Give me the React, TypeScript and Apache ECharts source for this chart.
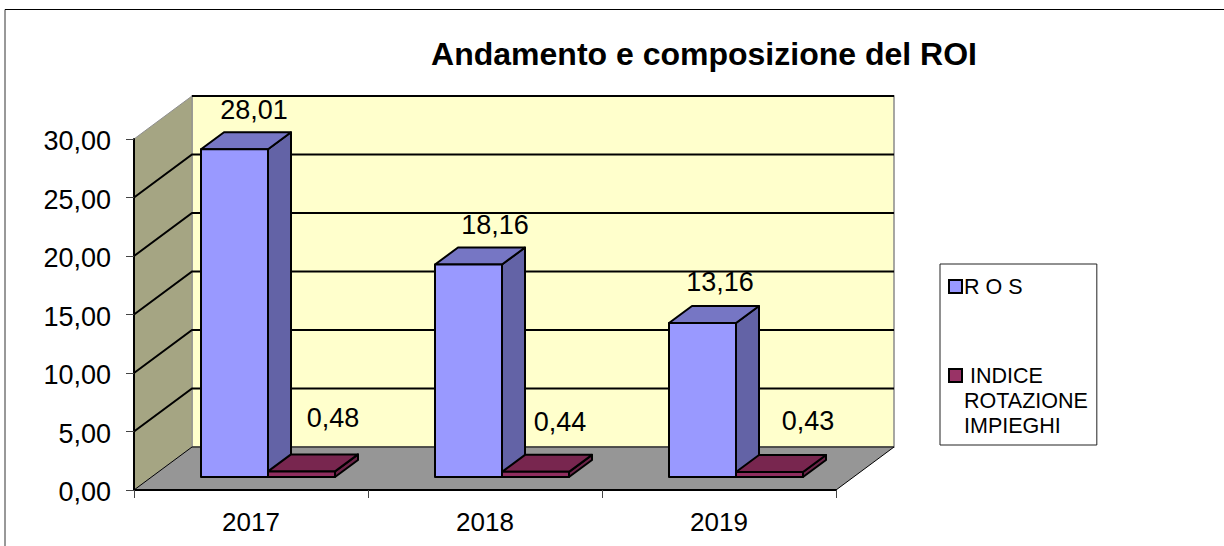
import React, { useEffect, useRef } from "react";
import * as echarts from "echarts";

const titleText = "Andamento e composizione del ROI";
const categories = ["2017", "2018", "2019"];
const rosName = "R O S";
const indiceName = "INDICE ROTAZIONE IMPIEGHI";
const rosValues = [28.01, 18.16, 13.16];
const indiceValues = [0.48, 0.44, 0.43];
const yTicks = [0, 5, 10, 15, 20, 25, 30];

// label placement relative to the top of each bar's front face [dx, dy]
const rosNudge = [[19.5, -39], [26.5, -39.5], [17.5, -41]];
const indiceNudge = [[31.5, -53], [24.5, -50], [38.5, -51]];

const FONT = '"Liberation Sans", Arial, sans-serif';
const DEPTH = [58, -43];
const BAR_OFF = [17, -13];
const BAR_DEPTH = [23, -17];
const BAR_W = 67;

const frameItem = (params: any, api: any) => {
  const band = api.size([1, 0])[0];
  const [cx] = api.coord([0, 0]);
  const x0 = cx - band / 2;
  const x1 = x0 + band * categories.length;
  const y0 = api.coord([0, 0])[1];
  const yTop = api.coord([0, 30])[1];
  const bx0 = x0 + DEPTH[0];
  const bx1 = x1 + DEPTH[0];
  const dy = DEPTH[1];
  const children: any[] = [];
  if (params.dataIndex === 0) {
    children.push(
      { type: "polygon", shape: { points: [[bx0, yTop + dy], [bx1, yTop + dy], [bx1, y0 + dy], [bx0, y0 + dy]] }, style: { fill: "#FFFFCC", stroke: "#8a8a8a", lineWidth: 1.5 } },
      { type: "polygon", shape: { points: [[x0, yTop], [bx0, yTop + dy], [bx0, y0 + dy], [x0, y0]] }, style: { fill: "#A5A583", stroke: "#8f8f8f", lineWidth: 1 } },
      { type: "polygon", shape: { points: [[x0, y0], [x1, y0], [bx1, y0 + dy], [bx0, y0 + dy]] }, style: { fill: "#969696", stroke: "#000", lineWidth: 1 } }
    );
  }
  const v = api.value(1);
  const y = api.coord([0, v])[1];
  if (v > 0 && v < 30) {
    children.push({
      type: "polyline",
      shape: { points: [[x0, y], [bx0, y + dy], [bx1, y + dy]] },
      style: { fill: "none", stroke: "#000", lineWidth: 2 },
    });
  }
  if (v === 30) {
    children.push({
      type: "line",
      shape: { x1: bx0, y1: y + dy, x2: bx1, y2: y + dy },
      style: { stroke: "#000", lineWidth: 2 },
    });
  }
  return { type: "group", children };
};

const barItem = (slot: number, faces: string[]) => (params: any, api: any) => {
  const band = api.size([1, 0])[0];
  const c = api.coord([api.value(0), api.value(1)]);
  const base = api.coord([api.value(0), 0])[1] + BAR_OFF[1];
  const top = c[1] + BAR_OFF[1];
  const left = c[0] - band / 2 + BAR_OFF[0] + (band - 2 * BAR_W) / 2 + slot * BAR_W;
  const right = left + BAR_W;
  const [dx, dy] = BAR_DEPTH;
  const edge = { stroke: "#000", lineWidth: 2, lineJoin: "round" };
  return {
    type: "group",
    children: [
      { type: "polygon", shape: { points: [[right, top], [right + dx, top + dy], [right + dx, base + dy], [right, base]] }, style: { fill: faces[1], ...edge } },
      { type: "polygon", shape: { points: [[left, top], [left + dx, top + dy], [right + dx, top + dy], [right, top]] }, style: { fill: faces[2], ...edge } },
      { type: "rect", shape: { x: left, y: top, width: BAR_W, height: base - top }, style: { fill: faces[0], ...edge } },
    ],
  };
};

const labelItem = (slot: number, nudge: number[][]) => (params: any, api: any) => {
  const band = api.size([1, 0])[0];
  const c = api.coord([api.value(0), api.value(1)]);
  const left = c[0] - band / 2 + BAR_OFF[0] + (band - 2 * BAR_W) / 2 + slot * BAR_W;
  const n = nudge[params.dataIndex];
  return {
    type: "text",
    style: {
      text: api.value(1).toFixed(2).replace(".", ","),
      x: left + BAR_W / 2 + n[0],
      y: c[1] + BAR_OFF[1] + n[1],
      fill: "#000",
      font: `27px ${FONT}`,
      textAlign: "center",
      textVerticalAlign: "middle",
    },
  };
};

export default function App() {
  const ref = useRef<HTMLDivElement>(null);
  useEffect(() => {
    document.body.style.margin = "0";
    const chart = echarts.init(ref.current!, undefined, { renderer: "svg" });
    const rosData = rosValues.map((v, i) => [i, v]);
    const indiceData = indiceValues.map((v, i) => [i, v]);
    chart.setOption({
      animation: false,
      backgroundColor: "#fff",
      textStyle: { fontFamily: FONT },
      title: {
        text: titleText,
        left: 699,
        top: 33,
        textAlign: "center",
        textStyle: { fontFamily: FONT, fontSize: 32, fontWeight: "bold", color: "#000" },
      },
      grid: { left: 134, top: 139, width: 702, height: 351 },
      legend: {
        orient: "vertical",
        left: 940,
        top: 264,
        padding: [10, 9, 7, 8],
        itemGap: 14,
        itemWidth: 13,
        itemHeight: 13,
        itemStyle: { borderColor: "#000", borderWidth: 2 },
        borderColor: "#222",
        borderWidth: 1,
        backgroundColor: "#fff",
        selectedMode: false,
        icon: "rect",
        data: [rosName, indiceName],
        formatter: (name: string) =>
          name === indiceName ? "\n\n " + name.split(" ").join("\n") : name,
        textStyle: { fontFamily: FONT, fontSize: 21.5, color: "#000", lineHeight: 25, padding: [0, 0, 0, -3] },
      },
      xAxis: {
        type: "category",
        data: categories,
        z: 10,
        axisLine: { lineStyle: { color: "#000", width: 2 } },
        axisTick: { show: true, length: 8, alignWithLabel: false, lineStyle: { color: "#444", width: 1 } },
        axisLabel: { color: "#000", fontFamily: FONT, fontSize: 26, margin: 19 },
        splitLine: { show: false },
      },
      yAxis: {
        type: "value",
        min: 0,
        max: 30,
        interval: 5,
        z: 10,
        axisLine: { show: true, lineStyle: { color: "#000", width: 2 } },
        axisTick: { show: true, length: 8, lineStyle: { color: "#444", width: 1 } },
        axisLabel: {
          color: "#000",
          fontFamily: FONT,
          fontSize: 27,
          margin: 23,
          formatter: (v: number) => `{t|${v.toFixed(2).replace(".", ",")}}`,
          rich: { t: { fontFamily: FONT, fontSize: 27, color: "#000", padding: [4, 0, 0, 0] } },
        },
        splitLine: { show: false },
      },
      graphic: [
        { type: "line", shape: { x1: 5, y1: 9.5, x2: 5, y2: 546 }, style: { stroke: "#333", lineWidth: 1 } },
        { type: "line", shape: { x1: 5, y1: 9.5, x2: 1224, y2: 9.5 }, style: { stroke: "#000", lineWidth: 1 } },
      ],
      series: [
        { type: "custom", name: "frame", z: 1, silent: true, data: yTicks.map((t) => [0, t]), encode: { x: 0, y: 1 }, renderItem: frameItem },
        { type: "custom", name: rosName, z: 3, itemStyle: { color: "#9999FF" }, data: rosData, encode: { x: 0, y: 1 }, renderItem: barItem(0, ["#9999FF", "#6363A6", "#7676C4"]) },
        { type: "custom", name: indiceName, z: 4, itemStyle: { color: "#993366" }, data: indiceData, encode: { x: 0, y: 1 }, renderItem: barItem(1, ["#8F2E5F", "#6B2448", "#78264F"]) },
        { type: "custom", name: "labels-ros", z: 6, silent: true, data: rosData, encode: { x: 0, y: 1 }, renderItem: labelItem(0, rosNudge) },
        { type: "custom", name: "labels-indice", z: 6, silent: true, data: indiceData, encode: { x: 0, y: 1 }, renderItem: labelItem(1, indiceNudge) },
      ],
    });
    return () => chart.dispose();
  }, []);
  return <div ref={ref} style={{ width: 1224, height: 546 }} />;
}
